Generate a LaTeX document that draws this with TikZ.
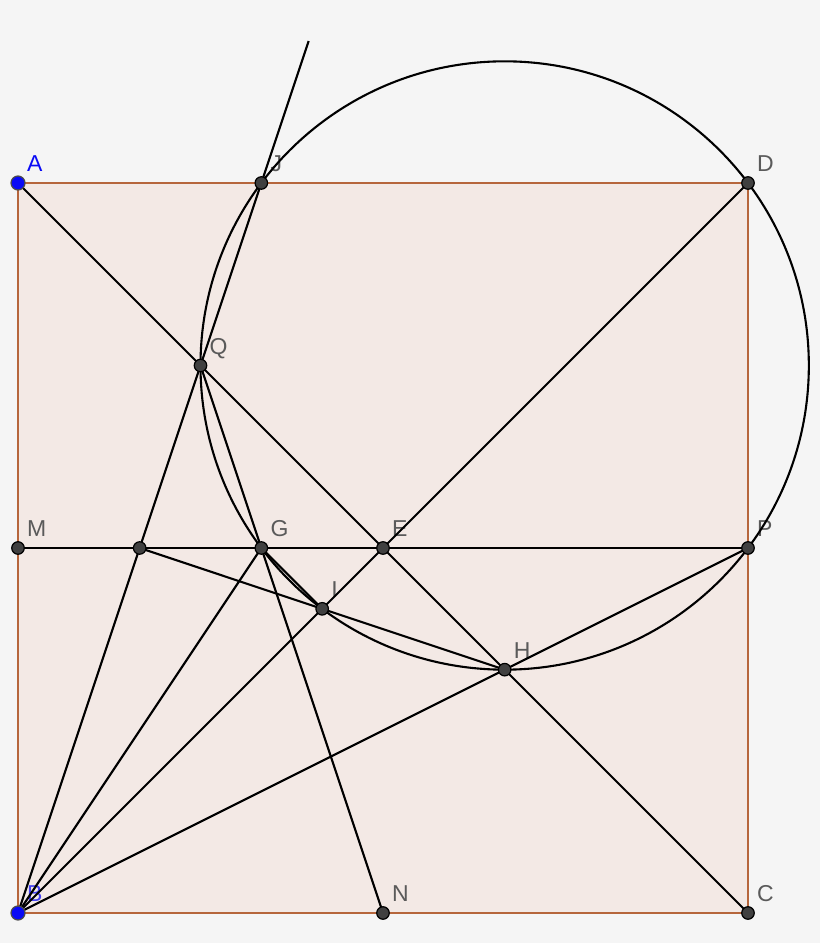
\documentclass[tikz,border=0pt]{standalone}
\usepackage{fontspec}
\setmainfont{Liberation Sans}
\usetikzlibrary{calc}
\definecolor{bgc}{RGB}{245,245,245}
\definecolor{sqfill}{RGB}{243,233,229}
\definecolor{sqedge}{RGB}{182,102,60}
\definecolor{ptgray}{RGB}{64,64,64}
\definecolor{lblgray}{RGB}{90,90,90}
\definecolor{ptblue}{RGB}{10,10,245}
\begin{document}
\begin{tikzpicture}[x=1pt,y=1pt,
  geo/.style={black,line width=2.1pt},
  edge/.style={sqedge,line width=2.6pt},
  dot/.style={circle,fill=ptgray,draw=black,line width=1.2pt,minimum size=12.5pt,inner sep=0pt},
  bdot/.style={circle,fill=ptblue,draw=black!70,line width=1.2pt,minimum size=14pt,inner sep=0pt},
  lbl/.style={anchor=base west,inner sep=0pt,font=\fontsize{23}{25}\selectfont,text=lblgray},
  blbl/.style={lbl,text=ptblue}]
\fill[bgc] (-18,-30) rectangle (802,913);
\useasboundingbox (-18,-30) rectangle (802,913);
% named points
\coordinate (A) at (0,730);
\coordinate (B) at (0,0);
\coordinate (C) at (730,0);
\coordinate (D) at (730,730);
\coordinate (M) at (0,365);
\coordinate (P) at (730,365);
\coordinate (E) at (365,365);
\coordinate (N) at (365,0);
\coordinate (J) at (243.33,730);
\coordinate (Q) at (182.5,547.5);
\coordinate (G) at (243.33,365);
\coordinate (I) at (304.17,304.17);
\coordinate (H) at (486.67,243.33);
\coordinate (K) at (121.67,365);
\coordinate (O) at (486.67,547.5);
\coordinate (T) at (290.67,872);
% square
\fill[sqfill] (A) rectangle (C);
% labels
\node[blbl] (lA) at ($(A)+(9,11)$) {A};
\node[lbl] (lJ) at ($(J)+(9,11)$) {J};
\node[lbl] (lD) at ($(D)+(9,11)$) {D};
\node[lbl] (lQ) at ($(Q)+(9,11)$) {Q};
\node[lbl] (lM) at ($(M)+(9,11)$) {M};
\node[lbl] (lG) at ($(G)+(9,11)$) {G};
\node[lbl] (lE) at ($(E)+(9,11)$) {E};
\node[lbl] (lP) at ($(P)+(9,11)$) {P};
\node[lbl] (lI) at ($(I)+(9,11)$) {I};
\node[lbl] (lH) at ($(H)+(9,11)$) {H};
\node[blbl,opacity=0.75] (lB) at ($(B)+(9,11)$) {B};
\node[lbl] (lN) at ($(N)+(9,11)$) {N};
\node[lbl] (lC) at ($(C)+(9,11)$) {C};
% square edges
\draw[edge] (A) -- (D) -- (C) -- (B) -- cycle;
% lines
\draw[geo] (A) -- (C);
\draw[geo] (B) -- (D);
\draw[geo] (M) -- (P);
\draw[geo] (B) -- (T);
\draw[geo] (B) -- (G);
\draw[geo] (B) -- (P);
\draw[geo] (Q) -- (N);
\draw[geo] (K) -- (H);
\draw[geo] (G) -- (I);
\draw[geo] (O) circle[radius=304.17];
% points
\foreach \p in {J,D,Q,M,K,G,E,P,I,H,N,C}
  \node[dot] (d\p) at (\p) {};
\node[bdot] (dA) at (A) {};
\node[bdot] (dB) at (B) {};
\end{tikzpicture}
\end{document}
